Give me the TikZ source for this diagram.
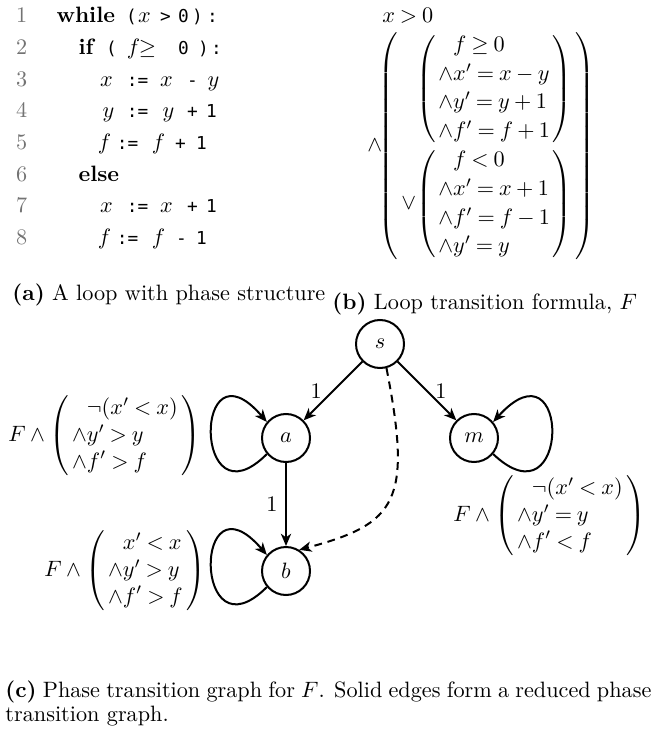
\documentclass[tikz,border=0pt]{standalone}
\usepackage{amsmath,amssymb}
\usepackage{fontspec}
\setmonofont{DejaVu Sans Mono}
\usetikzlibrary{arrows.meta}
\newlength\pu \setlength\pu{0.45pt}
\newcommand\tkc[2]{\makebox[0pt][l]{\hspace*{\dimexpr#1\pu\relax}\makebox[0pt][c]{#2}}}
\newcommand\tkl[2]{\makebox[0pt][l]{\hspace*{\dimexpr#1\pu\relax}#2}}
\newcommand\cd[1]{{\ttfamily\fontsize{8}{10}\selectfont #1}}
\newcommand\lnum[1]{\textcolor{black!55}{#1}}
\newcommand\fmath{\fontsize{10}{12}\selectfont\thickmuskip=4mu plus 2mu\medmuskip=3.5mu plus 2mu minus 3mu\arraycolsep=1.5pt}
\begin{document}
\begin{tikzpicture}[x=0.45pt,y=-0.45pt,
  st/.style={circle, draw, line width=0.9pt, minimum size=21.6pt, inner sep=0pt, font=\fontsize{10}{12}\selectfont},
  edge/.style={line width=0.9pt, -{Stealth[length=5.5pt,width=4.6pt,inset=1.6pt]}},
  dashedge/.style={edge, dash pattern=on 3.5pt off 2.6pt},
  lab/.style={inner sep=0pt, font=\fontsize{10}{12}\selectfont},
  codel/.style={anchor=base west, inner sep=0pt, font=\fontsize{10}{12}\selectfont},
  txt/.style={anchor=base west, inner sep=0pt, font=\fontsize{10}{12}\selectfont},
  formula/.style={inner sep=0pt, font=\fmath}]
\useasboundingbox (0,0) rectangle (662,740);

% (a) code
\node[codel] (l1) at (0,23) {\tkc{20}{\lnum{1}}\tkl{55}{\textbf{while}}\tkc{130}{\cd{(}}\tkc{143}{$x$}\tkc{164}{\cd{>}}\tkc{182}{\cd{0}}\tkc{196}{\cd{)}}\tkc{211}{\cd{:}}};
\node[codel] (l2) at (0,55) {\tkc{20}{\lnum{2}}\tkl{77}{\textbf{if}}\tkc{110}{\cd{(}}\tkc{132}{$f$}\tkc{146}{$\geq$}\tkc{182}{\cd{0}}\tkc{202}{\cd{)}}\tkc{215}{\cd{:}}};
\node[codel] (l3) at (0,87) {\tkc{20}{\lnum{3}}\tkc{105}{$x$}\tkc{136}{\cd{:=}}\tkc{165}{$x$}\tkc{191}{\cd{-}}\tkc{212}{$y$}};
\node[codel] (l4) at (0,118) {\tkc{20}{\lnum{4}}\tkc{107}{$y$}\tkc{136}{\cd{:=}}\tkc{167}{$y$}\tkc{191}{\cd{+}}\tkc{210}{\cd{1}}};
\node[codel] (l5) at (0,150) {\tkc{20}{\lnum{5}}\tkc{103}{$f$}\tkc{126}{\cd{:=}}\tkc{157}{$f$}\tkc{179}{\cd{+}}\tkc{200}{\cd{1}}};
\node[codel] (l6) at (0,182) {\tkc{20}{\lnum{6}}\tkl{77}{\textbf{else}}};
\node[codel] (l7) at (0,213) {\tkc{20}{\lnum{7}}\tkc{105}{$x$}\tkc{136}{\cd{:=}}\tkc{165}{$x$}\tkc{191}{\cd{+}}\tkc{210}{\cd{1}}};
\node[codel] (l8) at (0,245) {\tkc{20}{\lnum{8}}\tkc{103}{$f$}\tkc{126}{\cd{:=}}\tkc{157}{$f$}\tkc{180}{\cd{-}}\tkc{200}{\cd{1}}};

% (b) formula
\node[formula, anchor=west] (fb) at (367,132) {\renewcommand\arraystretch{1.08}$\begin{array}{@{}l@{}}
\hphantom{\land}x>0\\
\land\!\!\left(\begin{array}{l}
 \hphantom{\lor}\!\left(\begin{array}{@{\hspace{1.2pt}}l@{\hspace{1.2pt}}}\hphantom{\land}f\geq 0\\ \land x'=x-y\\ \land y'=y+1\\ \land f'=f+1\end{array}\right)\\
 \lor\!\left(\begin{array}{@{\hspace{1.2pt}}l@{\hspace{1.2pt}}}\hphantom{\land}f<0\\ \land x'=x+1\\ \land f'=f-1\\ \land y'=y\end{array}\right)
\end{array}\right)
\end{array}$};

% captions
\node[txt] (capa) at (12,301) {\textbf{(a)} A loop with phase structure};
\node[txt] (capb) at (332,310) {\textbf{(b)} Loop transition formula, $F$};

% graph
\node[st] (s) at (380,344) {$s$};
\node[st] (a) at (286,438) {$a$};
\node[st] (m) at (474,438) {$m$};
\node[st] (b) at (286,571) {$b$};

\draw[edge] (s) -- (a) node[lab, midway, xshift=-7.6pt] {1};
\draw[edge] (s) -- (m) node[lab, midway, xshift=6.3pt] {1};
\draw[edge] (a) -- (b) node[lab, midway, xshift=-6.3pt] {1};
\draw[dashedge] (s.-75) .. controls +(26,133) and +(98,-26) .. (b.58);
\draw[edge] (a.220) .. controls +(-74,74) and +(-74,-86) .. (a.140);
\draw[edge] (b.220) .. controls +(-74,74) and +(-74,-86) .. (b.140);
\draw[edge] (m.-40) .. controls +(78,74) and +(78,-86) .. (m.40);

\node[formula, anchor=east] (fa) at (201,436) {$F\land\left(\begin{array}{l}\hphantom{\land}\neg(x'<x)\\ \land y'>y\\ \land f'>f\end{array}\right)$};
\node[formula, anchor=east] (fbb) at (206,571) {$F\land\left(\begin{array}{l}\hphantom{\land}x'<x\\ \land y'>y\\ \land f'>f\end{array}\right)$};
\node[formula, anchor=east] (fm) at (646,516) {$F\land\left(\begin{array}{l}\hphantom{\land}\neg(x'<x)\\ \land y'=y\\ \land f'<f\end{array}\right)$};

% caption (c)
\node[txt] (capc1) at (5,697) {\makebox[290.7pt][s]{\textbf{(c)} Phase transition graph for $F$. Solid edges form a reduced phase}};
\node[txt] (capc2) at (5,721) {transition graph.};
\end{tikzpicture}
\end{document}
